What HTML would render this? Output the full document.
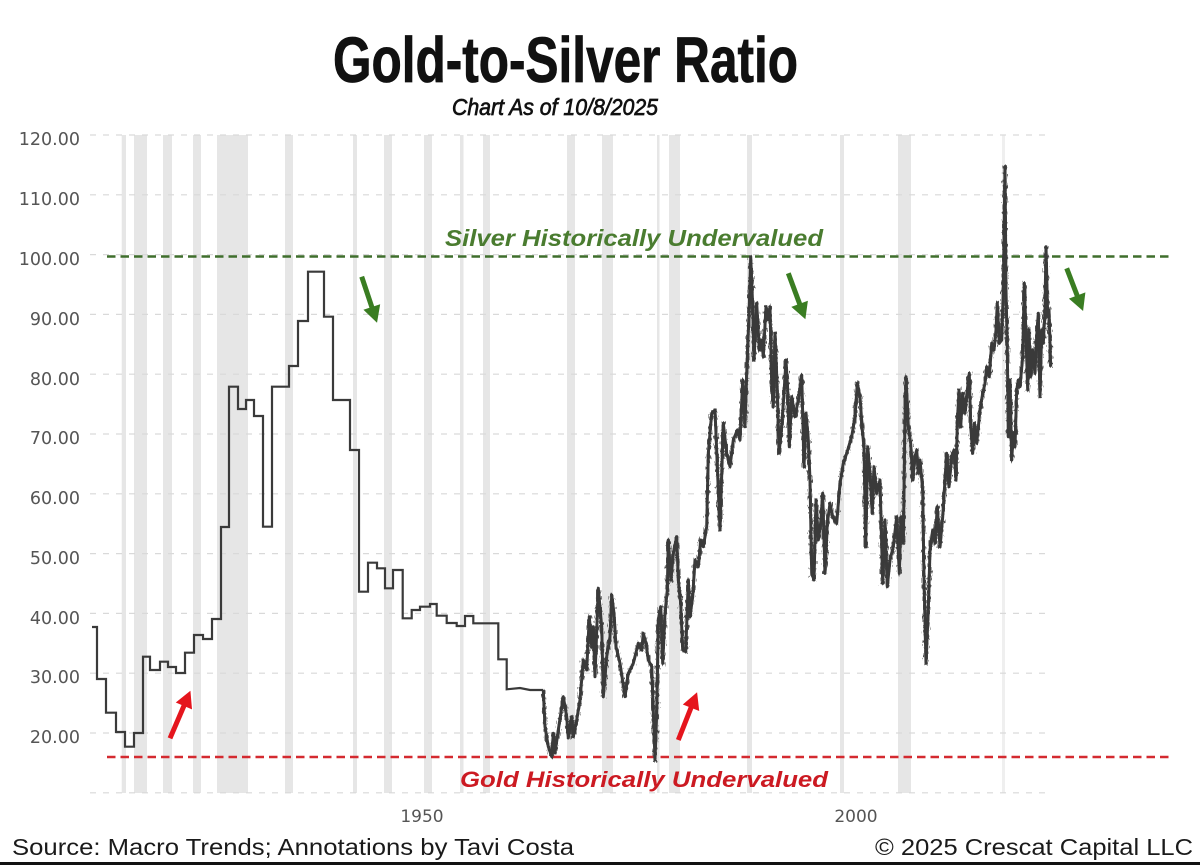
<!DOCTYPE html>
<html>
<head>
<meta charset="utf-8">
<style>
  html,body{margin:0;padding:0;background:#fff;}
  svg{display:block;}
</style>
</head>
<body>
<svg width="1200" height="865" viewBox="0 0 1200 865" xmlns="http://www.w3.org/2000/svg">
  <defs>
    <filter id="noise" x="500" y="120" width="600" height="700" filterUnits="userSpaceOnUse">
      <feTurbulence type="fractalNoise" baseFrequency="0.8 0.2" numOctaves="2" seed="7" result="t"/>
      <feDisplacementMap in="SourceGraphic" in2="t" scale="7" xChannelSelector="R" yChannelSelector="G"/>
    </filter>
  </defs>
  <rect x="0" y="0" width="1200" height="865" fill="#fff"/>

  <!-- recession bars -->
  <g fill="#e6e6e6">
    <rect x="121.7" y="135" width="4.3" height="658"/>
    <rect x="134" y="135" width="13" height="658"/>
    <rect x="163" y="135" width="9" height="658"/>
    <rect x="193" y="135" width="8" height="658"/>
    <rect x="217" y="135" width="31" height="658"/>
    <rect x="285" y="135" width="8" height="658"/>
    <rect x="353" y="135" width="4" height="658"/>
    <rect x="384" y="135" width="8" height="658"/>
    <rect x="424" y="135" width="8" height="658"/>
    <rect x="460" y="135" width="3.5" height="658"/>
    <rect x="483" y="135" width="7" height="658"/>
    <rect x="567" y="135" width="8" height="658"/>
    <rect x="602" y="135" width="11" height="658"/>
    <rect x="657" y="135" width="2.5" height="658"/>
    <rect x="669" y="135" width="11" height="658"/>
    <rect x="747" y="135" width="5" height="658"/>
    <rect x="840" y="135" width="4" height="658"/>
    <rect x="898" y="135" width="13" height="658"/>
    <rect x="1002" y="135" width="3" height="658" fill="#efefef"/>
  </g>

  <!-- grid lines -->
  <g stroke="#d9d9d9" stroke-width="1.2" stroke-dasharray="6 7">
    <line x1="90" y1="135" x2="1045" y2="135"/>
    <line x1="90" y1="194.8" x2="1045" y2="194.8"/>
    <line x1="90" y1="254.6" x2="1045" y2="254.6"/>
    <line x1="90" y1="314.4" x2="1045" y2="314.4"/>
    <line x1="90" y1="374.2" x2="1045" y2="374.2"/>
    <line x1="90" y1="434" x2="1045" y2="434"/>
    <line x1="90" y1="493.8" x2="1045" y2="493.8"/>
    <line x1="90" y1="553.6" x2="1045" y2="553.6"/>
    <line x1="90" y1="613.4" x2="1045" y2="613.4"/>
    <line x1="90" y1="673.2" x2="1045" y2="673.2"/>
    <line x1="90" y1="733" x2="1045" y2="733"/>
    <line x1="90" y1="792.8" x2="1045" y2="792.8"/>
  </g>

  <!-- y axis labels -->
  <g font-family="'DejaVu Sans', 'Liberation Sans', sans-serif" font-size="17.5" fill="#555" text-anchor="end">
    <text x="80" y="145">120.00</text>
    <text x="80" y="205">110.00</text>
    <text x="80" y="265">100.00</text>
    <text x="80" y="325">90.00</text>
    <text x="80" y="385">80.00</text>
    <text x="80" y="444">70.00</text>
    <text x="80" y="504">60.00</text>
    <text x="80" y="564">50.00</text>
    <text x="80" y="624">40.00</text>
    <text x="80" y="683">30.00</text>
    <text x="80" y="743">20.00</text>
  </g>

  <!-- x axis labels -->
  <g font-family="'DejaVu Sans', 'Liberation Sans', sans-serif" font-size="17" fill="#555" text-anchor="middle">
    <text x="422" y="822">1950</text>
    <text x="856" y="822">2000</text>
  </g>

  <!-- reference lines -->
  <line x1="107" y1="256.5" x2="1170" y2="256.5" stroke="#3f6e2c" stroke-width="2.6" stroke-dasharray="8.5 5"/>
  <line x1="107" y1="757" x2="1170" y2="757" stroke="#d42a30" stroke-width="2.6" stroke-dasharray="8.5 5"/>

  <!-- data line: step part -->
  <path fill="none" stroke="#3a3a3a" stroke-width="2.2" stroke-linejoin="miter"
    d="M92,627 H97 V679 H106 V712.7 H116 V732 H125 V746.7 H134 V733 H143 V656.7 H150 V670 H160 V661.7 H168 V667 H176 V673 H185 V652.7 H194 V635 H203 V639 H212 V619 H221 V527 H229 V386.7 H238 V409 H246 V400 H254 V416 H263 V526.7 H272 V386.7 H289 V366 H298 V321 H308 V271.7 H324 V316.7 H333 V400 H350 V450 H359 V591.7 H368 V562.7 H377 V568.3 H385 V588.3 H393 V570 H402.7 V618.3 H411.7 V610 H420 V606.7 H430 V604 H436.7 V615.7 H446.7 V623 H456.7 V626 H465 V616 H473.3 V623.3 H498.3 V659.3 H506.7 V689.3 L520,688 L530,690 L543.3,690"/>

  <!-- data line: volatile part -->
  <g id="volg">
  <path id="vol" fill="none" stroke="#3a3a3a" stroke-width="3" stroke-linejoin="round"
    d="M543.3,690 L545,726.7 548.3,746.7 551.7,756.7 553.3,733.3 555,753 558.3,730 563.3,696.7 566.7,716.7 568.3,738 571.7,716.7 573.3,736.7 576.7,720 580,700 583.3,660 586.7,670 589.3,616.7 591.7,646.7 593.3,626.7 595,676.7 598.3,588.3 601.7,626.7 603.3,696.7 606.7,656.7 610,636.7 611.7,595 614,613.3 616,646.7 620,663.3 625,696.7 628.3,673.3 633.3,663.3 638.3,643.3 641.7,650 643.3,633.3 646,643.3 648.3,660 651.7,666.7 655,760 656.7,713.3 658.3,620 660.7,606.7 662.7,663.3 665,613.3 667.3,590 668.3,540 671,580 673.3,553.3 676.7,536.7 678.3,580 680.7,603.3 682.7,650 685.7,651.7 688.3,580 690,616.7 692.7,596.7 695,560 698.3,566.7 700.7,540 703.3,546.7 706.7,526.7 708.3,453.3 711.7,413.3 715,410 718.3,490 720,530 723.3,423.3 726.7,453.3 730,466.7 733.3,440 737.3,430 740,440 742.7,380 745,426.7 746.7,373.3 749.3,306.7 750.7,256.7 752.7,306.7 754,360 756.7,303.3 759.3,350 761.7,340 763.3,356.7 766,306.7 768.3,320 770,306.7 771.7,383.3 773.3,406.7 775,333.3 777.3,390 779,453.3 781.7,426.7 784,393.3 786,360 787.7,390 789.3,446.7 791.7,396.7 795,416.7 798.3,400 801.7,375 804,466.7 806,413.3 808.3,440 810,480 811.7,573.3 814,580 816,500 818.3,540 820.7,523.3 822.7,493.3 825,573.3 827.3,523.3 830,503.3 832.7,516.7 836.7,523.3 840,483.3 843.3,463.3 846.7,453.3 851.7,436.7 855,416.7 857.3,383.3 860,396.7 862.3,430 864,446.7 865.7,546.7 867.7,446.7 870,473.3 872.3,513.3 874,466.7 876.7,493.3 880,480 882.7,583.3 885,520 887.3,586.7 890,560 893.3,546.7 896.7,516.7 899.3,573.3 901,516.7 903.3,543.3 905,416.7 906,376.7 908.3,426.7 910.7,443.3 912.7,480 915,456.7 916.7,450 918.3,473.3 920,460 922.7,490 924,580 926,663.3 928.3,610 930,550 932.7,530 935,543.3 937.3,506.7 940,546.7 942.7,516.7 945,480 946.7,453.3 949,486.7 951.7,456.7 954,450 956,480 957.3,423.3 959,390 960.7,426.7 962.7,393.3 965,413.3 967.3,390 969.3,373.3 970.7,426.7 972.7,453.3 974.3,423.3 976.7,443.3 980,410 982.7,393.3 985,383.3 986.7,366.7 989.3,376.7 991.7,343.3 994,350 996,330 997.3,303.3 999.3,343.3 1001.7,340 1003.3,290 1005,166.7 1006,290 1007.3,350 1008.3,436.7 1010,380 1011.7,460 1013.3,433.3 1015,446.7 1016.7,390 1018.3,380 1020,386.7 1022.7,356.7 1024.3,283.3 1026,336.7 1027.7,390 1029,330 1030.7,376.7 1032.7,350 1035,373.3 1036.7,336.7 1038.3,313.3 1040,396.7 1041.7,330 1043.3,343.3 1045,310 1046,246.7 1047.7,316.7 1049,310 1050.7,366.7"/>
  </g>
  <!-- noisy overlay to mimic daily data density -->
  <use href="#vol" filter="url(#noise)" stroke-width="1.6" opacity="0.9"/>

  <!-- green arrows -->
  <g fill="#3a7d22" stroke="#3a7d22">
    <line x1="361.7" y1="276.7" x2="371.96" y2="307.46" stroke-width="5"/>
    <polygon points="376.7,321.7 364.37,309.99 379.55,304.93" stroke-width="1"/>
    <line x1="788.3" y1="273.3" x2="799.78" y2="304.24" stroke-width="5"/>
    <polygon points="805,318.3 792.28,307.02 807.28,301.46" stroke-width="1"/>
    <line x1="1066.7" y1="268.3" x2="1077.33" y2="295.99" stroke-width="5"/>
    <polygon points="1082.7,310 1069.86,298.85 1084.8,293.13" stroke-width="1"/>
  </g>

  <!-- red arrows -->
  <g fill="#e5151d" stroke="#e5151d">
    <line x1="170" y1="738.3" x2="184.09" y2="705.49" stroke-width="5"/>
    <polygon points="190,691.7 191.44,708.64 176.74,702.34" stroke-width="1"/>
    <line x1="678.3" y1="740" x2="691.2" y2="707.25" stroke-width="5"/>
    <polygon points="696.7,693.3 698.64,710.18 683.76,704.32" stroke-width="1"/>
  </g>

  <!-- annotation labels -->
  <text x="445" y="246" font-family="'Liberation Sans', sans-serif" font-size="23" font-weight="bold" font-style="italic" fill="#4a7c30" textLength="378" lengthAdjust="spacingAndGlyphs">Silver Historically Undervalued</text>
  <text x="460" y="787" font-family="'Liberation Sans', sans-serif" font-size="22" font-weight="bold" font-style="italic" fill="#cc1a22" textLength="368" lengthAdjust="spacingAndGlyphs">Gold Historically Undervalued</text>

  <!-- title -->
  <text x="333" y="82" font-family="'Liberation Sans', sans-serif" font-size="64" font-weight="bold" fill="#111" stroke="#111" stroke-width="0.8" textLength="465" lengthAdjust="spacingAndGlyphs">Gold-to-Silver Ratio</text>
  <text x="452" y="115" font-family="'Liberation Sans', sans-serif" font-size="23" font-style="italic" fill="#111" stroke="#111" stroke-width="0.7" textLength="206" lengthAdjust="spacingAndGlyphs">Chart As of 10/8/2025</text>

  <!-- footer -->
  <text x="12" y="855" font-family="'Liberation Sans', sans-serif" font-size="23" fill="#1a1a1a" textLength="562" lengthAdjust="spacingAndGlyphs">Source: Macro Trends; Annotations by Tavi Costa</text>
  <text x="875" y="855" font-family="'Liberation Sans', sans-serif" font-size="23" fill="#1a1a1a" textLength="318" lengthAdjust="spacingAndGlyphs">© 2025 Crescat Capital LLC</text>

  <rect x="0" y="862" width="1200" height="3" fill="#111"/>
</svg>
</body>
</html>
